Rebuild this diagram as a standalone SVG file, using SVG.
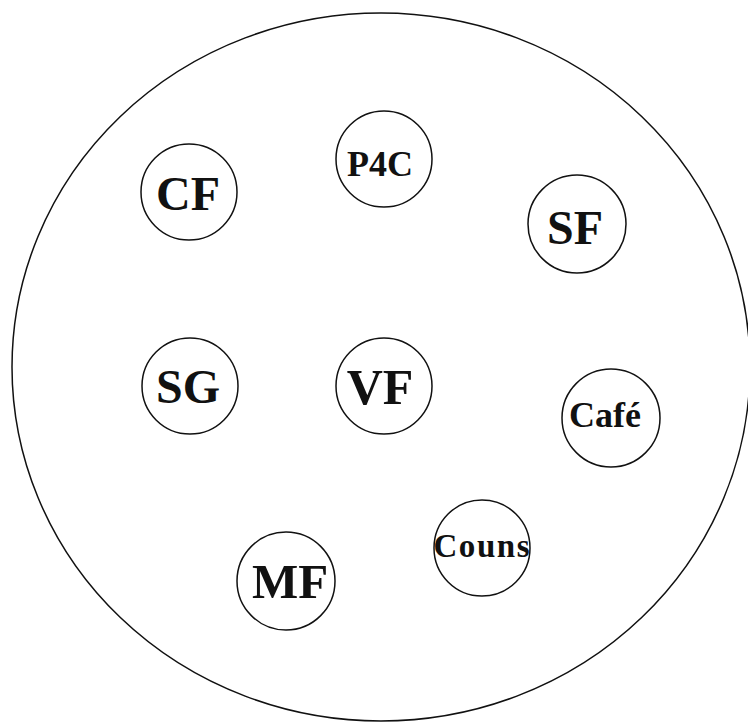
<svg xmlns="http://www.w3.org/2000/svg" width="748" height="722" viewBox="0 0 748 722">
<style>
.ring{fill:none;stroke:#111;stroke-width:1.5}
.lbl{font-family:"Liberation Serif","Times New Roman",serif;font-weight:bold;fill:#111;text-anchor:middle}
</style>
<rect width="748" height="722" fill="#fff"/>
<g id="outer"><ellipse class="ring" cx="381" cy="367" rx="369" ry="354"/></g>
<g id="connectors"></g>
<g id="CF"><circle class="ring" cx="189" cy="192" r="48"/><text class="lbl" x="188" y="210" font-size="48">CF</text></g>
<g id="P4C"><circle class="ring" cx="384" cy="159" r="48"/><text class="lbl" x="380" y="176" font-size="36">P4C</text></g>
<g id="SF"><circle class="ring" cx="577" cy="224" r="49"/><text class="lbl" x="575" y="244" font-size="48">SF</text></g>
<g id="SG"><circle class="ring" cx="190" cy="386" r="48"/><text class="lbl" x="188" y="403" font-size="48">SG</text></g>
<g id="VF"><circle class="ring" cx="384" cy="386" r="48"/><text class="lbl" x="380" y="404" font-size="50">VF</text></g>
<g id="Cafe"><circle class="ring" cx="611" cy="418" r="49"/><text class="lbl" x="605" y="427" font-size="36">Café</text></g>
<g id="Couns"><circle class="ring" cx="482" cy="548" r="48"/><text class="lbl" x="481.5" y="557" font-size="33" textLength="96" lengthAdjust="spacing">Couns</text></g>
<g id="MF"><circle class="ring" cx="286" cy="581" r="49"/><text class="lbl" x="290" y="598" font-size="49">MF</text></g>
</svg>
